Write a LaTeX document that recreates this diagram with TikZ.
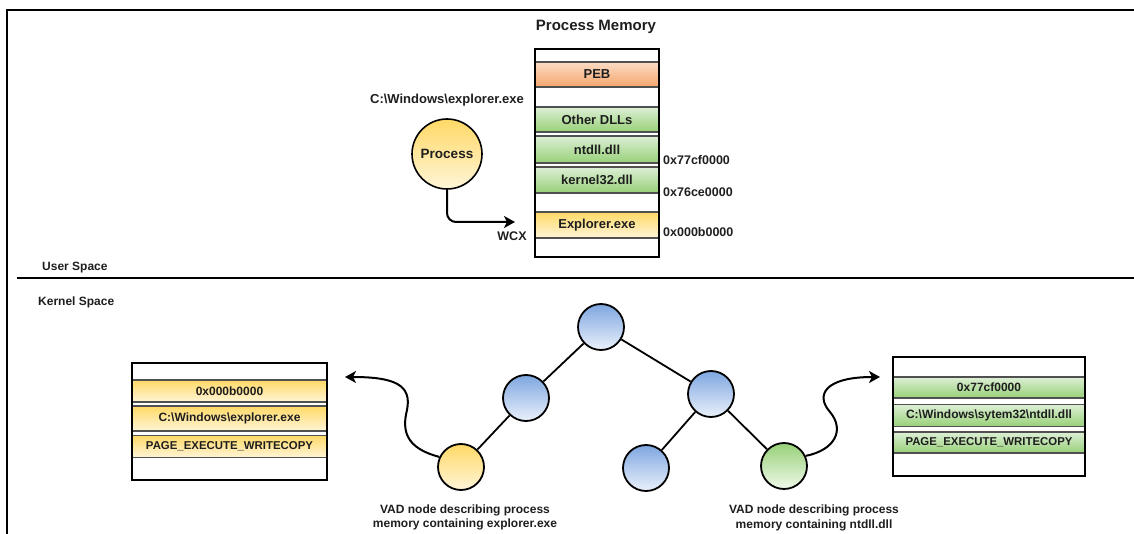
\documentclass[tikz,border=0pt]{standalone}
\usepackage{fontspec}
\setmainfont{Liberation Sans}
\usetikzlibrary{arrows.meta}
\definecolor{txt}{HTML}{1E1E1E}
\definecolor{rowline}{HTML}{505050}
\definecolor{pebT}{HTML}{FBDCC4}
\definecolor{pebB}{HTML}{F5A56C}
\definecolor{grnT}{HTML}{DDEFD6}
\definecolor{grnB}{HTML}{97D077}
\definecolor{yelT}{HTML}{FFD966}
\definecolor{yelB}{HTML}{FFF5D8}
\definecolor{bluT}{HTML}{7EA6E0}
\definecolor{bluB}{HTML}{EAF1FB}
\definecolor{gciT}{HTML}{97D077}
\definecolor{gciB}{HTML}{F0F9EB}
\tikzset{
  fs/.style={font=\bfseries\fontsize{#1}{14.5}\selectfont, text=txt},
  lbl/.style={fs=12.5, inner sep=0pt},
  memrow/.style={draw=rowline, line width=1.1pt, minimum width=124pt, inner sep=0pt, fs=13},
  vadrow/.style={draw=rowline, line width=1.1pt, inner sep=0pt, fs=12},
  yelrow/.style={top color=yelT, bottom color=yelB},
  grnrow/.style={top color=grnT, bottom color=grnB},
  outerbox/.style={draw=black, line width=2pt, inner sep=0pt},
  vad/.style={circle, draw=black, line width=1.8pt, minimum size=46pt, inner sep=0pt},
  bluevad/.style={vad, top color=bluT, bottom color=bluB},
  edge/.style={line width=1.8pt, draw=black},
  arr/.style={line width=2pt, -{Stealth[length=11pt,width=12pt,inset=3pt]}},
}
\begin{document}
\begin{tikzpicture}[x=1pt,y=-1pt]
\useasboundingbox (0,0) rectangle (1134,534);
% frame and separator
\draw[line width=2pt] (7,534) -- (7,10) -- (1134,10);
\draw[line width=2pt] (17,278) -- (1134,278);
\node[lbl, fs=12, anchor=west] (us) at (42,268) {User Space};
\node[lbl, fs=12, anchor=west] (ks) at (38,302) {Kernel Space};

% process memory stack
\node[lbl, fs=15] (ttl) at (596,27) {Process Memory};
\node[memrow, top color=pebT, bottom color=pebB, minimum height=25pt] (peb) at (597,74.5) {PEB};
\node[memrow, grnrow, minimum height=25pt] (odll) at (597,119.5) {Other DLLs};
\node[memrow, grnrow, minimum height=27pt] (ntd) at (597,149.5) {ntdll.dll};
\node[memrow, grnrow, minimum height=26pt] (k32) at (597,180) {kernel32.dll};
\node[memrow, yelrow, minimum height=26pt] (exr) at (597,225) {Explorer.exe};
\node[outerbox, minimum width=124pt, minimum height=208pt] (mem) at (597,153) {};
\node[lbl, anchor=west] (a1) at (663,160) {0x77cf0000};
\node[lbl, anchor=west] (a2) at (663,192) {0x76ce0000};
\node[lbl, anchor=west] (a3) at (663,232) {0x000b0000};

% process
\node[lbl, fs=13] (path) at (447,100) {C:\textbackslash Windows\textbackslash explorer.exe};
\node[circle, draw=black, line width=1.6pt, minimum size=70pt, inner sep=0pt,
      top color=yelT, bottom color=yelB, fs=13.5] (proc) at (447,154) {Process};
\coordinate (wtip) at (515,222);
\draw[arr, rounded corners=9pt] (proc.south) |- (wtip);
\node[lbl] (wcx) at (512,236) {WCX};

% VAD tree
\node[bluevad] (root) at (601,327) {};
\node[bluevad] (lc) at (526,398) {};
\node[bluevad] (rc) at (711,394) {};
\node[vad, top color=yelT, bottom color=yelB] (yel) at (461,467) {};
\node[bluevad] (bl) at (646,468) {};
\node[vad, top color=gciT, bottom color=gciB] (grn) at (784,466) {};
\draw[edge] (root) -- (lc);
\draw[edge] (root) -- (rc);
\draw[edge] (lc) -- (yel);
\draw[edge] (rc) -- (bl);
\draw[edge] (rc) -- (grn);
\node[lbl, fs=12, align=center] (cap1) at (465,517.5) {VAD node describing process\\memory containing explorer.exe};
\node[lbl, fs=12, align=center] (cap2) at (814,518) {VAD node describing process\\memory containing ntdll.dll};

% left VAD box
\node[vadrow, yelrow, minimum width=195pt, minimum height=22pt] (l1) at (229.5,391) {0x000b0000};
\node[vadrow, yelrow, minimum width=195pt, minimum height=25pt] (l2) at (229.5,418.5) {C:\textbackslash Windows\textbackslash explorer.exe};
\node[vadrow, yelrow, minimum width=195pt, minimum height=22pt, fs=11.4] (l3) at (229.5,446.5) {PAGE\_EXECUTE\_WRITECOPY};
\node[outerbox, minimum width=195pt, minimum height=117pt] (lbox) at (229.5,421.5) {};
\coordinate (ltip) at (345,377);
\draw[arr] (yel.155) .. controls (405,448) and (402,430) .. (407,410)
                     .. controls (412,385) and (395,377) .. (ltip);

% right VAD box
\node[vadrow, grnrow, minimum width=192pt, minimum height=21pt] (r1) at (989,387.5) {0x77cf0000};
\node[vadrow, grnrow, minimum width=192pt, minimum height=22pt] (r2) at (989,415.5) {C:\textbackslash Windows\textbackslash sytem32\textbackslash ntdll.dll};
\node[vadrow, grnrow, minimum width=192pt, minimum height=21pt, fs=11.4] (r3) at (989,442.5) {PAGE\_EXECUTE\_WRITECOPY};
\node[outerbox, minimum width=192pt, minimum height=119pt] (rbox) at (989,416.5) {};
\coordinate (rtip) at (880,377);
\draw[arr] (grn.25) .. controls (835,450) and (845,430) .. (830,412)
                    .. controls (815,395) and (825,377) .. (rtip);
\end{tikzpicture}
\end{document}
